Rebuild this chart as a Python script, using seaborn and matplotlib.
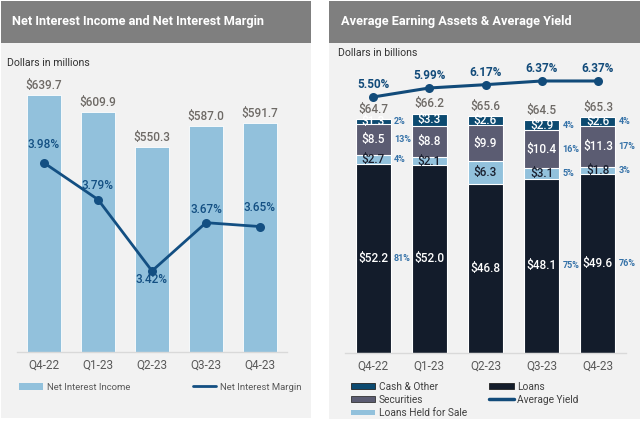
import numpy as np
import matplotlib
matplotlib.use('Agg')
import matplotlib.pyplot as plt
import seaborn as sns
from matplotlib.patches import Rectangle, Patch
from matplotlib.lines import Line2D

# ---------------- data ----------------
quarters = ['Q4-22', 'Q1-23', 'Q2-23', 'Q3-23', 'Q4-23']
nii = [639.7, 609.9, 550.3, 587.0, 591.7]
nim = [3.98, 3.79, 3.42, 3.67, 3.65]

loans = [52.2, 52.0, 46.8, 48.1, 49.6]
lhfs = [2.7, 2.1, 6.3, 3.1, 1.8]
securities = [8.5, 8.8, 9.9, 10.4, 11.3]
cash_other = [1.3, 3.3, 2.6, 2.9, 2.6]
totals = [64.7, 66.2, 65.6, 64.5, 65.3]
avg_yield = [5.50, 5.99, 6.17, 6.37, 6.37]

loans_pct = ['81%', '', '', '75%', '76%']
lhfs_pct = ['4%', '', '', '5%', '3%']
sec_pct = ['13%', '', '', '16%', '17%']
cash_pct = ['2%', '', '', '4%', '4%']

# ---------------- style ----------------
sns.set_theme(style='white')
plt.rcParams['font.family'] = ['Roboto', 'DejaVu Sans']

C_BAR = '#92c1dc'
C_NIM = '#134f82'
C_CASH = '#0c4a70'
C_SEC = '#5b5c72'
C_LHFS = '#92c1dc'
C_LOANS = '#131c2b'
C_YIELD = '#124b7a'
C_PCT = '#3572a8'
C_TOT = '#6e6a66'
C_TICK = '#595959'

W, H = 640, 422
fig = plt.figure(figsize=(W / 100, H / 100), dpi=100)
fig.patch.set_facecolor('white')


def px_rect(x0, y0, x1, y1, color):
    fig.add_artist(Rectangle((x0 / W, 1 - y1 / H), (x1 - x0) / W, (y1 - y0) / H,
                             transform=fig.transFigure, facecolor=color,
                             edgecolor='none', zorder=-5))


def px_axes(x0, y0, x1, y1):
    ax = fig.add_axes([x0 / W, 1 - y1 / H, (x1 - x0) / W, (y1 - y0) / H])
    ax.patch.set_alpha(0)
    return ax


# panels
px_rect(1, 1, 311, 43, '#7f7f7f')
px_rect(1, 43, 311, 418, '#f2f2f2')
px_rect(329, 1, 640, 43, '#7f7f7f')
px_rect(329, 43, 640, 419, '#f2f2f2')

fig.text(12 / W, 1 - 22 / H, 'Net Interest Income and Net Interest Margin',
         color='white', fontsize=9.2, weight='semibold', va='center')
fig.text(341 / W, 1 - 22 / H, 'Average Earning Assets & Average Yield',
         color='white', fontsize=9.2, weight='semibold', va='center')
fig.text(7 / W, 1 - 63 / H, 'Dollars in millions', fontsize=7.6, color='#333333', va='center')
fig.text(338 / W, 1 - 53 / H, 'Dollars in billions', fontsize=7.6, color='#333333', va='center')


def style_axis(ax, pad):
    for s in ['top', 'left', 'right']:
        ax.spines[s].set_visible(False)
    ax.spines['bottom'].set_color('#d9d9d9')
    ax.spines['bottom'].set_linewidth(1)
    ax.set_yticks([])
    ax.set_xlabel('')
    ax.set_ylabel('')
    ax.tick_params(axis='x', length=0, pad=pad, labelsize=8.5, labelcolor=C_TICK)
    ax.set_xlim(-0.5, 4.5)


# ---------------- left chart ----------------
ax1 = px_axes(17, 70, 287, 352)
sns.barplot(x=quarters, y=nii, color=C_BAR, width=0.63, saturation=1,
            edgecolor='white', linewidth=0.6, ax=ax1)
ax1.set_ylim(200, 682.5)
style_axis(ax1, 4.5)
for i, v in enumerate(nii):
    ax1.annotate(f'${v:.1f}', (i, v), xytext=(0, 7), textcoords='offset points',
                 ha='center', va='center', fontsize=8.5, color=C_TOT, weight='medium')

ax2 = ax1.twinx()
ax2.patch.set_alpha(0)
sns.lineplot(x=np.arange(len(quarters)), y=nim, ax=ax2, color=C_NIM, linewidth=2,
             marker='o', markersize=6.5, markeredgewidth=0)
ax2.set_ylim(3.0, 3.0 + 282 / 193)
ax2.set_xlim(-0.5, 4.5)
ax2.axis('off')
nim_off = [13, 10, -6, 9.5, 13.5]
for i, v in enumerate(nim):
    ax2.annotate(f'{v:.2f}%', (i, v), xytext=(0, nim_off[i]), textcoords='offset points',
                 ha='center', va='center', fontsize=8.5, color=C_NIM, weight='medium')

fig.legend(handles=[Patch(facecolor=C_BAR, edgecolor='none')], labels=['Net Interest Income'],
           loc='center left', bbox_to_anchor=(19 / W, 1 - 387 / H), frameon=False,
           fontsize=6.8, handlelength=2.5, handleheight=0.7, handletextpad=0.5,
           borderpad=0, borderaxespad=0, labelcolor=C_TICK)
fig.legend(handles=[Line2D([], [], color=C_NIM, lw=2)], labels=['Net Interest Margin'],
           loc='center left', bbox_to_anchor=(193 / W, 1 - 387 / H), frameon=False,
           fontsize=6.8, handlelength=2.4, handletextpad=0.5,
           borderpad=0, borderaxespad=0, labelcolor=C_TICK)

# ---------------- right chart ----------------
ax3 = px_axes(345, 60, 626, 352.7)
c1 = np.array(loans)
c2 = c1 + np.array(lhfs)
c3 = c2 + np.array(securities)
c4 = c3 + np.array(cash_other)
for vals, col in [(c4, C_CASH), (c3, C_SEC), (c2, C_LHFS), (c1, C_LOANS)]:
    sns.barplot(x=quarters, y=vals, color=col, width=0.62, saturation=1,
                edgecolor='white', linewidth=0.8, ax=ax3)
ax3.set_ylim(0, 292.7 / 3.61)
style_axis(ax3, 5)

segments = [
    (np.zeros(5), c1, loans, loans_pct, 'white'),
    (c1, c2, lhfs, lhfs_pct, '#1a1f2e'),
    (c2, c3, securities, sec_pct, 'white'),
    (c3, c4, cash_other, cash_pct, 'white'),
]
for lo, hi, vals, pcts, tc in segments:
    for i in range(5):
        mid = (lo[i] + hi[i]) / 2
        ax3.text(i, mid, f'${vals[i]:.1f}', ha='center', va='center', fontsize=8.5,
                 color=tc, weight='medium')
        if pcts[i]:
            ax3.text(i + 0.37, mid, pcts[i], ha='left', va='center', fontsize=6.5,
                     color=C_PCT, weight='bold')
for i, v in enumerate(totals):
    ax3.annotate(f'${v:.1f}', (i, v), xytext=(0, 7), textcoords='offset points',
                 ha='center', va='center', fontsize=8.5, color=C_TOT, weight='medium')

ax4 = ax3.twinx()
ax4.patch.set_alpha(0)
sns.lineplot(x=np.arange(len(quarters)), y=avg_yield, ax=ax4, color=C_YIELD, linewidth=2.2,
             marker='o', markersize=6.5, markeredgewidth=0)
ytop = 5.50 + 37 / 18.4
ax4.set_ylim(ytop - 292.7 / 18.4, ytop)
ax4.set_xlim(-0.5, 4.5)
ax4.axis('off')
for i, v in enumerate(avg_yield):
    ax4.annotate(f'{v:.2f}%', (i, v), xytext=(0, 9), textcoords='offset points',
                 ha='center', va='center', fontsize=8.5, color=C_YIELD, weight='bold')

h_cash = Patch(facecolor=C_CASH, edgecolor='#222222', linewidth=0.6)
h_sec = Patch(facecolor=C_SEC, edgecolor='#333333', linewidth=0.6)
h_lhfs = Patch(facecolor=C_LHFS, edgecolor='none')
h_loans = Patch(facecolor=C_LOANS, edgecolor='#222222', linewidth=0.6)
h_yield = Line2D([], [], color=C_YIELD, lw=2.5)
fig.legend(handles=[h_cash, h_sec, h_lhfs, h_loans, h_yield],
           labels=['Cash & Other', 'Securities', 'Loans Held for Sale', 'Loans', 'Average Yield'],
           ncol=2, loc='upper left', bbox_to_anchor=(351 / W, 1 - 381.5 / H), frameon=False,
           fontsize=7.3, handlelength=2.4, handleheight=0.5, handletextpad=0.35,
           labelspacing=0.32, columnspacing=2.2, borderpad=0, borderaxespad=0,
           labelcolor='#404040')

fig.savefig('out.png', dpi=100, facecolor='white')
